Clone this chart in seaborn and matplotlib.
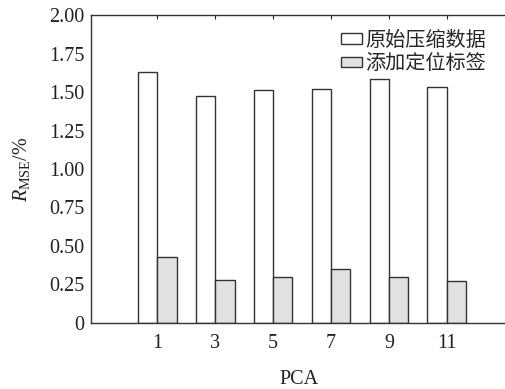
import pandas as pd
import matplotlib
matplotlib.use("Agg")
import matplotlib.pyplot as plt
import seaborn as sns

# data
pca = ["1", "3", "5", "7", "9", "11"]
raw_rmse = [1.628, 1.472, 1.511, 1.517, 1.582, 1.535]
tagged_rmse = [0.430, 0.277, 0.296, 0.348, 0.301, 0.273]
series = ["原始压缩数据", "添加定位标签"]
yticks = [0, 0.25, 0.5, 0.75, 1.0, 1.25, 1.5, 1.75, 2.0]
ytick_labels = ["0", "0.25", "0.50", "0.75", "1.00", "1.25", "1.50", "1.75", "2.00"]

df = pd.DataFrame({
    "PCA": pca * 2,
    "rmse": raw_rmse + tagged_rmse,
    "type": [series[0]] * len(pca) + [series[1]] * len(pca),
})

sns.set_style("white")
plt.rcParams["font.family"] = ["Liberation Serif", "Noto Sans CJK SC"]
plt.rcParams["mathtext.fontset"] = "custom"
plt.rcParams["mathtext.rm"] = "Liberation Serif"
plt.rcParams["mathtext.it"] = "Liberation Serif:italic"

fig = plt.figure(figsize=(5.06, 3.89), dpi=100)
ax = fig.add_axes([0.18, 0.1697, 0.82, 0.7917])

sns.barplot(data=df, x="PCA", y="rmse", hue="type", order=pca, hue_order=series,
            palette=["white", "#e0e1e0"], saturation=1, width=0.67,
            edgecolor="#333333", linewidth=1.0, ax=ax)

ax.set_xlim(-1.14, 6.02)
ax.set_ylim(0, 2.0)
ax.set_yticks(yticks)
ax.set_yticklabels(ytick_labels)
ax.tick_params(direction="in", top=True, right=False, length=3, width=0.8,
               labelsize=14.5, colors="#222222", pad=5)
ax.tick_params(axis="x", pad=8)
for side in ["left", "bottom", "top"]:
    ax.spines[side].set_color("#333333")
    ax.spines[side].set_linewidth(1.0)
ax.spines["right"].set_visible(False)

ax.set_xlabel("PCA", fontsize=14.5, labelpad=12, color="#222222")
ax.set_ylabel(r"$R_{\mathrm{MSE}}$/%", fontsize=14.5, labelpad=12, color="#222222")

leg = ax.get_legend()
handles = leg.legend_handles
labels = [t.get_text() for t in leg.get_texts()]
leg.remove()
ax.legend(handles, labels, loc="upper right", bbox_to_anchor=(0.975, 0.985),
          frameon=False, borderpad=0, handlelength=1.05, handleheight=0.42,
          handletextpad=0.12, labelspacing=0.12,
          prop={"family": ["Noto Sans CJK SC"], "size": 14.5})

fig.savefig("out.png", dpi=100)
